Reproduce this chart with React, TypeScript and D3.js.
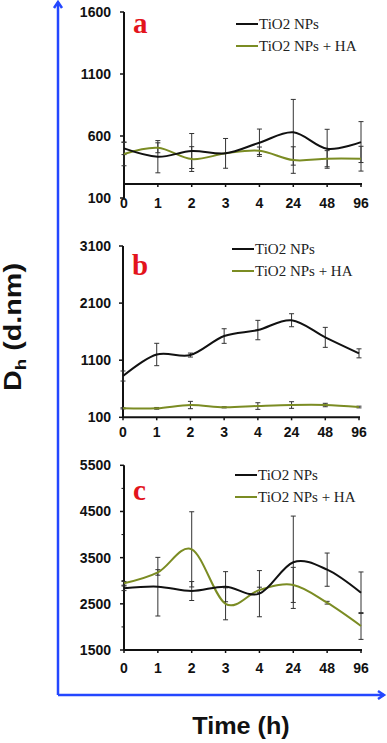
import React from "react";
import * as d3 from "d3";

const times = ["0", "1", "2", "3", "4", "24", "48", "96"];

// panel a
const aNP = [500, 433, 479, 460, 546, 630, 497, 551];
const aNPerr = [50, 130, 141, 120, 110, 265, 157, 165];
const aHA = [455, 505, 414, 460, 481, 406, 417, 417];
const aHAerr = [95, 40, 100, 0, 30, 107, 65, 100];
const aTicks = [100, 600, 1100, 1600];

// panel b
const bNP = [823, 1200, 1190, 1523, 1628, 1800, 1500, 1220];
const bNPerr = [88, 196, 35, 128, 170, 114, 175, 79];
const bHA = [257, 257, 315, 275, 297, 315, 315, 280];
const bHAerr = [10, 15, 64, 10, 58, 58, 30, 15];
const bTicks = [100, 1100, 2100, 3100];

// panel c
const cNP = [2836, 2871, 2777, 2871, 2720, 3400, 3240, 2740];
const cNPerr = [50, 635, 205, 326, 500, 1000, 360, 450];
const cHA = [2944, 3180, 3680, 2500, 2800, 2910, 2524, 2020];
const cHAerr = [40, 60, 814, 346, 60, 380, 30, 290];
const cTicks = [1500, 2500, 3500, 4500, 5500];
const cMinor = [2000, 3000, 4000, 5000];

const legendNames = ["TiO2 NPs", "TiO2 NPs + HA"];

const BLACK = "#111";
const GREEN = "#7b8c23";
const RED = "#e3141c";
const BLUE = "#2447ff";

const panels = [
  {
    label: "a", np: aNP, npErr: aNPerr, ha: aHA, haErr: aHAerr, ticks: aTicks, minor: [] as number[],
    domain: [100, 1600], yr: [198, 12], xr: [124, 361], xAxisY: 184, xLabY: 208,
    legendY: 24, legendX: 236, labelY: 33,
  },
  {
    label: "b", np: bNP, npErr: bNPerr, ha: bHA, haErr: bHAerr, ticks: bTicks, minor: [] as number[],
    domain: [100, 3100], yr: [417.3, 246], xr: [123, 359], xAxisY: 417.3, xLabY: 437,
    legendY: 249, legendX: 232, labelY: 275,
  },
  {
    label: "c", np: cNP, npErr: cNPerr, ha: cHA, haErr: cHAerr, ticks: cTicks, minor: cMinor,
    domain: [1500, 5500], yr: [650, 465.3], xr: [124, 361], xAxisY: 650, xLabY: 673,
    legendY: 475, legendX: 235, labelY: 500,
  },
];

const Panel = ({ p }: { p: (typeof panels)[number] }) => {
  const x = d3.scalePoint<string>().domain(times).range(p.xr as [number, number]);
  const y = d3.scaleLinear().domain(p.domain).range(p.yr);
  const line = d3
    .line<number>()
    .x((d, i) => x(times[i]) as number)
    .y((d) => y(d))
    .curve(d3.curveCatmullRom.alpha(0));

  const bars = (vals: number[], errs: number[], key: string) =>
    vals.map((v, i) => {
      const cx = x(times[i]) as number;
      const y1 = y(v + errs[i]);
      const y2 = y(v - errs[i]);
      if (!errs[i]) return null;
      return (
        <g key={key + i} stroke="#333" strokeWidth={1}>
          <line x1={cx} x2={cx} y1={y1} y2={y2} />
          <line x1={cx - 2.5} x2={cx + 2.5} y1={y1} y2={y1} />
          <line x1={cx - 2.5} x2={cx + 2.5} y1={y2} y2={y2} />
        </g>
      );
    });

  const x0 = p.xr[0];
  return (
    <g>
      {/* y axis */}
      <line x1={x0} x2={x0} y1={y(p.domain[1])} y2={y(p.domain[0])} stroke={BLACK} strokeWidth={2} />
      {p.ticks.map((t) => (
        <g key={t}>
          <line x1={x0 - 4} x2={x0} y1={y(t)} y2={y(t)} stroke={BLACK} strokeWidth={1.5} />
          <text x={111} y={y(t)} dy="0.35em" textAnchor="end" fontFamily="Arial, 'Liberation Sans'" fontWeight="bold" fontSize={14} fill="#111">
            {t}
          </text>
        </g>
      ))}
      {p.minor.map((t) => (
        <line key={"m" + t} x1={x0 - 2.5} x2={x0} y1={y(t)} y2={y(t)} stroke={BLACK} strokeWidth={1} />
      ))}
      {/* x axis */}
      <line x1={x0} x2={p.xr[1] + 1} y1={p.xAxisY} y2={p.xAxisY} stroke={BLACK} strokeWidth={2} />
      {times.map((t) => (
        <g key={t}>
          <line x1={x(t)} x2={x(t)} y1={p.xAxisY} y2={p.xAxisY + 3} stroke={BLACK} strokeWidth={1.5} />
          <text x={x(t)} y={p.xLabY} textAnchor="middle" fontFamily="Arial, 'Liberation Sans'" fontWeight="bold" fontSize={14} fill="#111">
            {t}
          </text>
        </g>
      ))}
      {/* series */}
      {bars(p.np, p.npErr, "n")}
      {bars(p.ha, p.haErr, "h")}
      <path d={line(p.ha) || ""} fill="none" stroke={GREEN} strokeWidth={2} />
      <path d={line(p.np) || ""} fill="none" stroke={BLACK} strokeWidth={2} />
      {/* legend */}
      {legendNames.map((n, i) => (
        <g key={n}>
          <line x1={p.legendX} x2={p.legendX + 22} y1={p.legendY + i * 22} y2={p.legendY + i * 22} stroke={i ? GREEN : BLACK} strokeWidth={2} />
          <text x={p.legendX + 23} y={p.legendY + i * 22} dy="0.33em" fontFamily="'Liberation Serif', 'Times New Roman'" fontSize={15} fill="#222">
            {n}
          </text>
        </g>
      ))}
      <text x={x0 + 9} y={p.labelY} fontFamily="'Liberation Serif', 'Times New Roman'" fontWeight="bold" fontSize={29} fill={RED}>
        {p.label}
      </text>
    </g>
  );
};

export default function App() {
  return (
    <svg width={387} height={743} style={{ position: "absolute", left: 0, top: 0, background: "#fff" }}>
      <rect width={387} height={743} fill="#fff" />
      {/* blue frame arrows */}
      <g stroke={BLUE} strokeWidth={2.5} fill="none">
        <line x1={58} x2={58} y1={2} y2={695} />
        <polyline points="54,8 58,2 62,8" />
        <line x1={58} x2={384} y1={695} y2={695} />
        <polyline points="378,691 384,695 378,699" />
      </g>
      <text transform="translate(21,327) rotate(-90) scale(1.25,1)" textAnchor="middle" fontFamily="Arial, 'Liberation Sans'" fontWeight="bold" fontSize={23} fill="#111">
        D<tspan fontSize={15} dy={5}>h</tspan>
        <tspan dy={-5}> (d.nm)</tspan>
      </text>
      <text transform="translate(241,734) scale(1.05,1)" textAnchor="middle" fontFamily="Arial, 'Liberation Sans'" fontWeight="bold" fontSize={24} fill="#111">
        Time (h)
      </text>
      {panels.map((p) => (
        <Panel key={p.label} p={p} />
      ))}
    </svg>
  );
}
